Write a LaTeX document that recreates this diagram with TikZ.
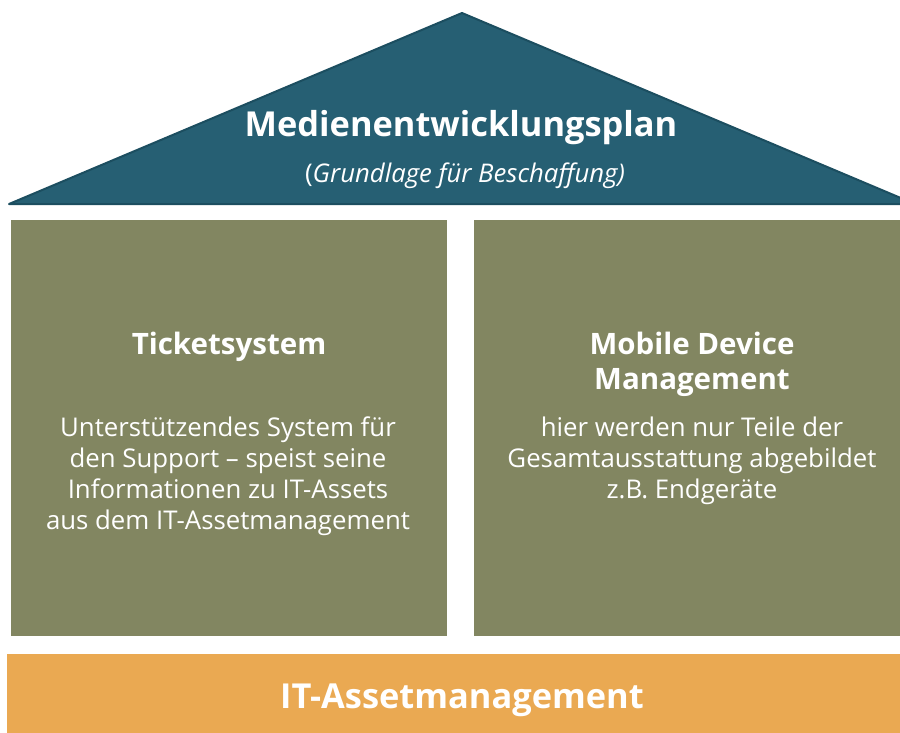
\documentclass[tikz,border=0pt]{standalone}
\usepackage{fontspec}
\setmainfont{Open Sans}
\definecolor{roofc}{RGB}{38,95,115}
\definecolor{roofl}{RGB}{28,78,96}
\definecolor{olive}{RGB}{130,134,97}
\definecolor{orangec}{RGB}{234,169,82}
\tikzset{
  pillar/.style={fill=olive},
  basebar/.style={fill=orangec},
  head/.style={text=white, font=\bfseries\fontsize{29.5}{35}\selectfont, align=center},
  body/.style={text=white, font=\fontsize{25.8}{31}\selectfont, align=center},
  big/.style={text=white, font=\bfseries\fontsize{34.4}{40}\selectfont},
}
\begin{document}
\begin{tikzpicture}[x=1pt,y=-1pt]
\useasboundingbox (0,0) rectangle (900,733);
\clip (0,0) rectangle (900,733);
\fill[roofc, draw=roofl, line width=2pt, line join=round] (9,204) -- (462,13) -- (915,204) -- cycle;
\fill[pillar] (11,220) rectangle (447,636);
\fill[pillar] (474,220) rectangle (905,636);
\fill[basebar] (7,654) rectangle (905,740);
\node[big] (title) at (461,128) {Medienentwicklungsplan};
\node[text=white, font=\fontsize{25.7}{30}\selectfont] (sub) at (465,176) {(\textit{Grundlage für Beschaffung)}};
\node[head] (tick) at (229,347) {Ticketsystem};
\node[body] (tickb) at (228,476) {Unterstützendes System für\\den Support – speist seine\\Informationen zu IT-Assets\\aus dem IT-Assetmanagement};
\node[head] (mdm) at (692,364) {Mobile Device\\Management};
\node[body] (mdmb) at (692,461) {hier werden nur Teile der\\Gesamtausstattung abgebildet\\z.B. Endgeräte};
\node[big] (itam) at (462,700) {IT-Assetmanagement};
\end{tikzpicture}
\end{document}
